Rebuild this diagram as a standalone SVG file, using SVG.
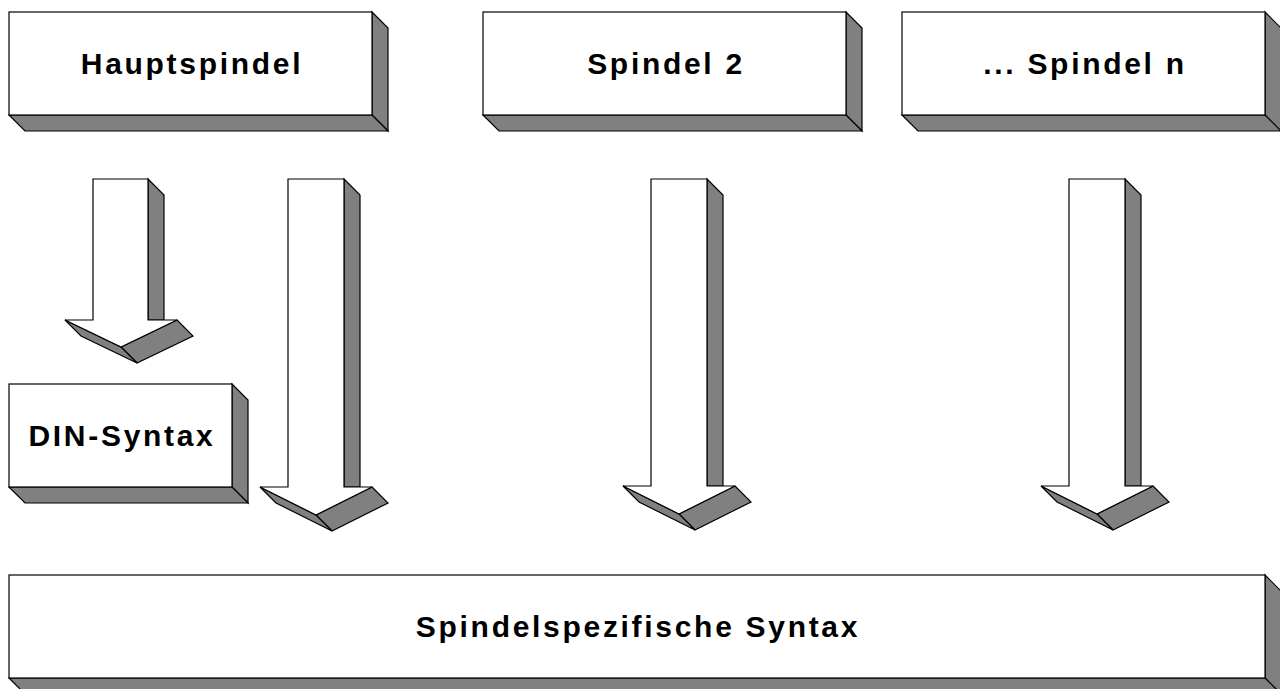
<svg xmlns="http://www.w3.org/2000/svg" width="1280" height="689" viewBox="0 0 1280 689">
<style>
.front{fill:#ffffff;stroke:#000;stroke-width:1.2;stroke-linejoin:miter}
.side{fill:#808080;stroke:#000;stroke-width:1.2;stroke-linejoin:miter}
.lbl{font-family:"Liberation Sans",Arial,sans-serif;font-weight:bold;font-size:30px;letter-spacing:2.7px;fill:#000;text-anchor:middle}
</style>
<rect width="1280" height="689" fill="#ffffff"/>
<g id="hauptspindel">
<polygon class="side" points="372,12 388,28 388,131 372,115"/>
<polygon class="side" points="9,115 372,115 388,131 25,131"/>
<rect class="front" x="9" y="12" width="363" height="103"/>
<text class="lbl" x="192" y="74">Hauptspindel</text>
</g>
<g id="spindel2">
<polygon class="side" points="846,12 862,28 862,131 846,115"/>
<polygon class="side" points="483,115 846,115 862,131 499,131"/>
<rect class="front" x="483" y="12" width="363" height="103"/>
<text class="lbl" x="666" y="74">Spindel 2</text>
</g>
<g id="spindeln">
<polygon class="side" points="1265,12 1281,28 1281,131 1265,115"/>
<polygon class="side" points="902,115 1265,115 1281,131 918,131"/>
<rect class="front" x="902" y="12" width="363" height="103"/>
<text class="lbl" x="1085" y="74">... Spindel n</text>
</g>
<g id="din-syntax">
<polygon class="side" points="232,384 248,400 248,503 232,487"/>
<polygon class="side" points="9,487 232,487 248,503 25,503"/>
<rect class="front" x="9" y="384" width="223" height="103"/>
<text class="lbl" x="122" y="446">DIN-Syntax</text>
</g>
<g id="spindelspezifische-syntax">
<polygon class="side" points="1265,575 1281,591 1281,694 1265,678"/>
<polygon class="side" points="9,678 1265,678 1281,694 25,694"/>
<rect class="front" x="9" y="575" width="1256" height="103"/>
<text class="lbl" x="638" y="637">Spindelspezifische Syntax</text>
</g>
<g id="connectors">
<g id="arrow-haupt-din">
<polygon class="side" points="148,179 164,195 164,320 148,320"/>
<polygon class="side" points="177,320 193,336 137,363 121,347"/>
<polygon class="side" points="65,320 121,347 137,363 81,336"/>
<polygon class="front" points="93,179 148,179 148,320 177,320 121,347 65,320 93,320"/>
</g>
<g id="arrow-haupt-syntax">
<polygon class="side" points="344,179 360,195 360,487 344,487"/>
<polygon class="side" points="372,487 388,503 332,531 316,515"/>
<polygon class="side" points="260,487 316,515 332,531 276,503"/>
<polygon class="front" points="288,179 344,179 344,487 372,487 316,515 260,487 288,487"/>
</g>
<g id="arrow-spindel2-syntax">
<polygon class="side" points="707,179 723,195 723,486 707,486"/>
<polygon class="side" points="735,486 751,502 695,530 679,514"/>
<polygon class="side" points="623,486 679,514 695,530 639,502"/>
<polygon class="front" points="651,179 707,179 707,486 735,486 679,514 623,486 651,486"/>
</g>
<g id="arrow-spindeln-syntax">
<polygon class="side" points="1125,179 1141,195 1141,486 1125,486"/>
<polygon class="side" points="1153,486 1169,502 1113,530 1097,514"/>
<polygon class="side" points="1041,486 1097,514 1113,530 1057,502"/>
<polygon class="front" points="1069,179 1125,179 1125,486 1153,486 1097,514 1041,486 1069,486"/>
</g>
</g>
</svg>
